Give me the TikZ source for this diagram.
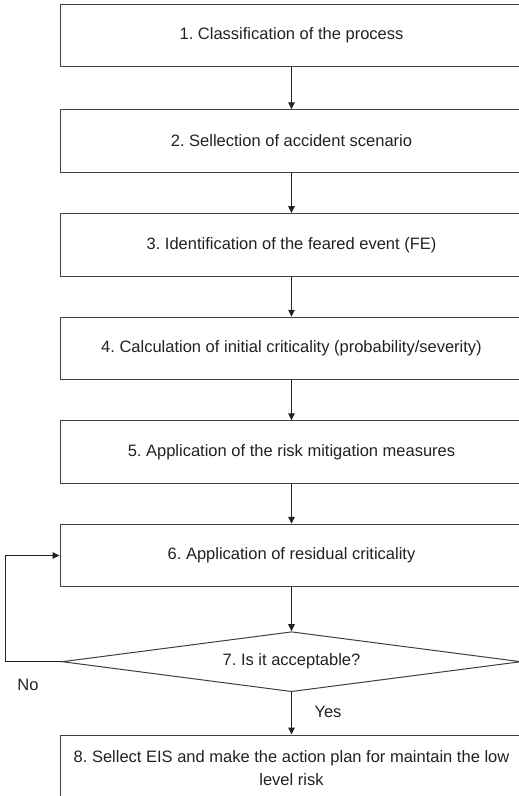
\documentclass[tikz,border=0pt]{standalone}
\usepackage{fontspec}
\setmainfont{Liberation Sans}
\frenchspacing
\usetikzlibrary{arrows.meta,shapes.geometric}
\definecolor{ink}{HTML}{222222}
\definecolor{boxLine}{HTML}{404040}
\tikzset{
  every node/.append style = {text=ink},
  % --- steps -------------------------------------------------------------
  stepbox/.style  = {draw=boxLine, fill=white, line width=1pt,
                     minimum width=463pt, minimum height=62.5pt, inner sep=0pt,
                     font=\fontsize{16.5}{23}\selectfont, align=center},
  decision/.style = {diamond, draw=boxLine, fill=white, line width=1pt,
                     minimum width=459pt, minimum height=60pt, inner sep=0pt,
                     aspect=7.6, font=\fontsize{16.5}{23}\selectfont},
  % --- relations ---------------------------------------------------------
  flow/.style     = {draw=ink, line width=1pt,
                     -{Triangle[length=7pt,width=6.5pt]}},
  % --- labels ------------------------------------------------------------
  lbl/.style      = {font=\fontsize{16.5}{20}\selectfont},
}
\begin{document}
\begin{tikzpicture}[x=1pt, y=-1pt]

\clip (0,0) rectangle (519,796);

% ==================== steps 1 to 6 ========================================
\foreach \i/\y/\txt in {1/35.6/{1. Classification of the process},
                        2/141.0/{2. Sellection of accident scenario},
                        3/244.8/{3. Identification of the feared event (FE)},
                        4/348.5/{4. Calculation of initial criticality (probability/severity)},
                        5/452.0/{5. Application of the risk mitigation measures},
                        6/555.5/{6. Application of residual criticality}}{
  \node[stepbox] (s\i) at (291.5,\y) {\txt};}

% ==================== decision and last step ==============================
\node[decision] (d7) at (291.5,661.7) {7. Is it acceptable?};
\node[stepbox, minimum height=67pt] (s8) at (291.5,768.5)
     {8. Sellect EIS and make the action plan for maintain the low\\ level risk};

% main chain
\foreach \a/\b in {1/2, 2/3, 3/4, 4/5, 5/6}{
  \draw[flow] (s\a.south) -- (s\b.north);}
\draw[flow] (s6.south) -- (d7.north);
\draw[flow] (d7.south) -- (s8.north);

% loop back when not acceptable
\draw[flow] (d7.west) -- ++(-56,0) |- (s6.west);

\node[lbl] (no)  at (28,685) {No};
\node[lbl] (yes) at (328,712) {Yes};

\end{tikzpicture}
\end{document}
